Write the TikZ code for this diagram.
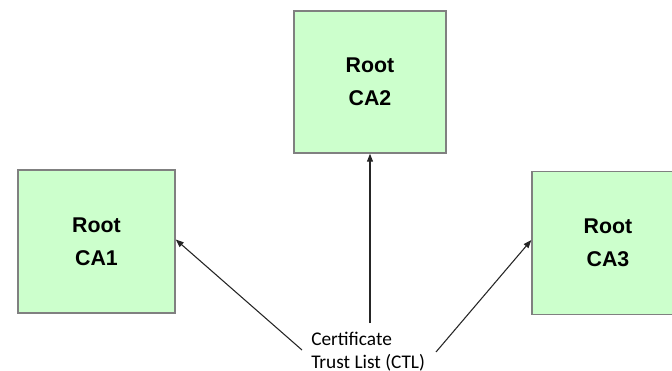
\documentclass[tikz,border=0pt]{standalone}
\usepackage{fontspec}
\setmainfont{Liberation Sans}
\newfontfamily\calibri{Carlito}
\usetikzlibrary{arrows.meta}
\definecolor{boxfill}{HTML}{CCFFCC}
\definecolor{boxline}{HTML}{808080}
\tikzset{
  rootca/.style={draw=boxline, line width=1.1pt, fill=boxfill, rectangle,
    minimum width=152*0.75pt, minimum height=142*0.75pt, inner sep=0pt,
    align=center, font=\fontsize{16}{25}\selectfont\bfseries},
  link/.style={draw=black!85, line width=0.8pt,
    -{Triangle[length=6pt,width=4.5pt]}},
}
\begin{document}
\begin{tikzpicture}[x=0.75pt,y=-0.75pt]
  \clip (0,0) rectangle (672,371);
  \useasboundingbox (0,0) rectangle (672,371);
  \fill[white] (0,0) rectangle (672,371);

  % root certificate authorities
  \node[rootca, minimum width=157*0.75pt, minimum height=143*0.75pt] (ca1) at (96.5,241.5) {Root\\CA1};
  \node[rootca] (ca2) at (370,82) {Root\\CA2};
  \node[rootca, minimum height=143*0.75pt] (ca3) at (608,243) {Root\\CA3};

  % certificate trust list label (base = baseline of its last line)
  \node[anchor=base west, inner sep=0pt, align=left,
        font=\calibri\fontsize{14.5}{17.25}\selectfont] (ctl) at (311,368)
        {Certificate\\Trust List (CTL)};

  % arrow tails near the label
  \coordinate (tl) at (302,350);
  \coordinate (tm) at (370,323);
  \coordinate (tr) at (436,352);

  \draw[link] (tl) -- ([yshift=1.5pt]ca1.east);
  \draw[link] (tm) -- (ca2.south);
  \draw[link] (tr) -- ([yshift=2.2pt]ca3.west);
\end{tikzpicture}
\end{document}
